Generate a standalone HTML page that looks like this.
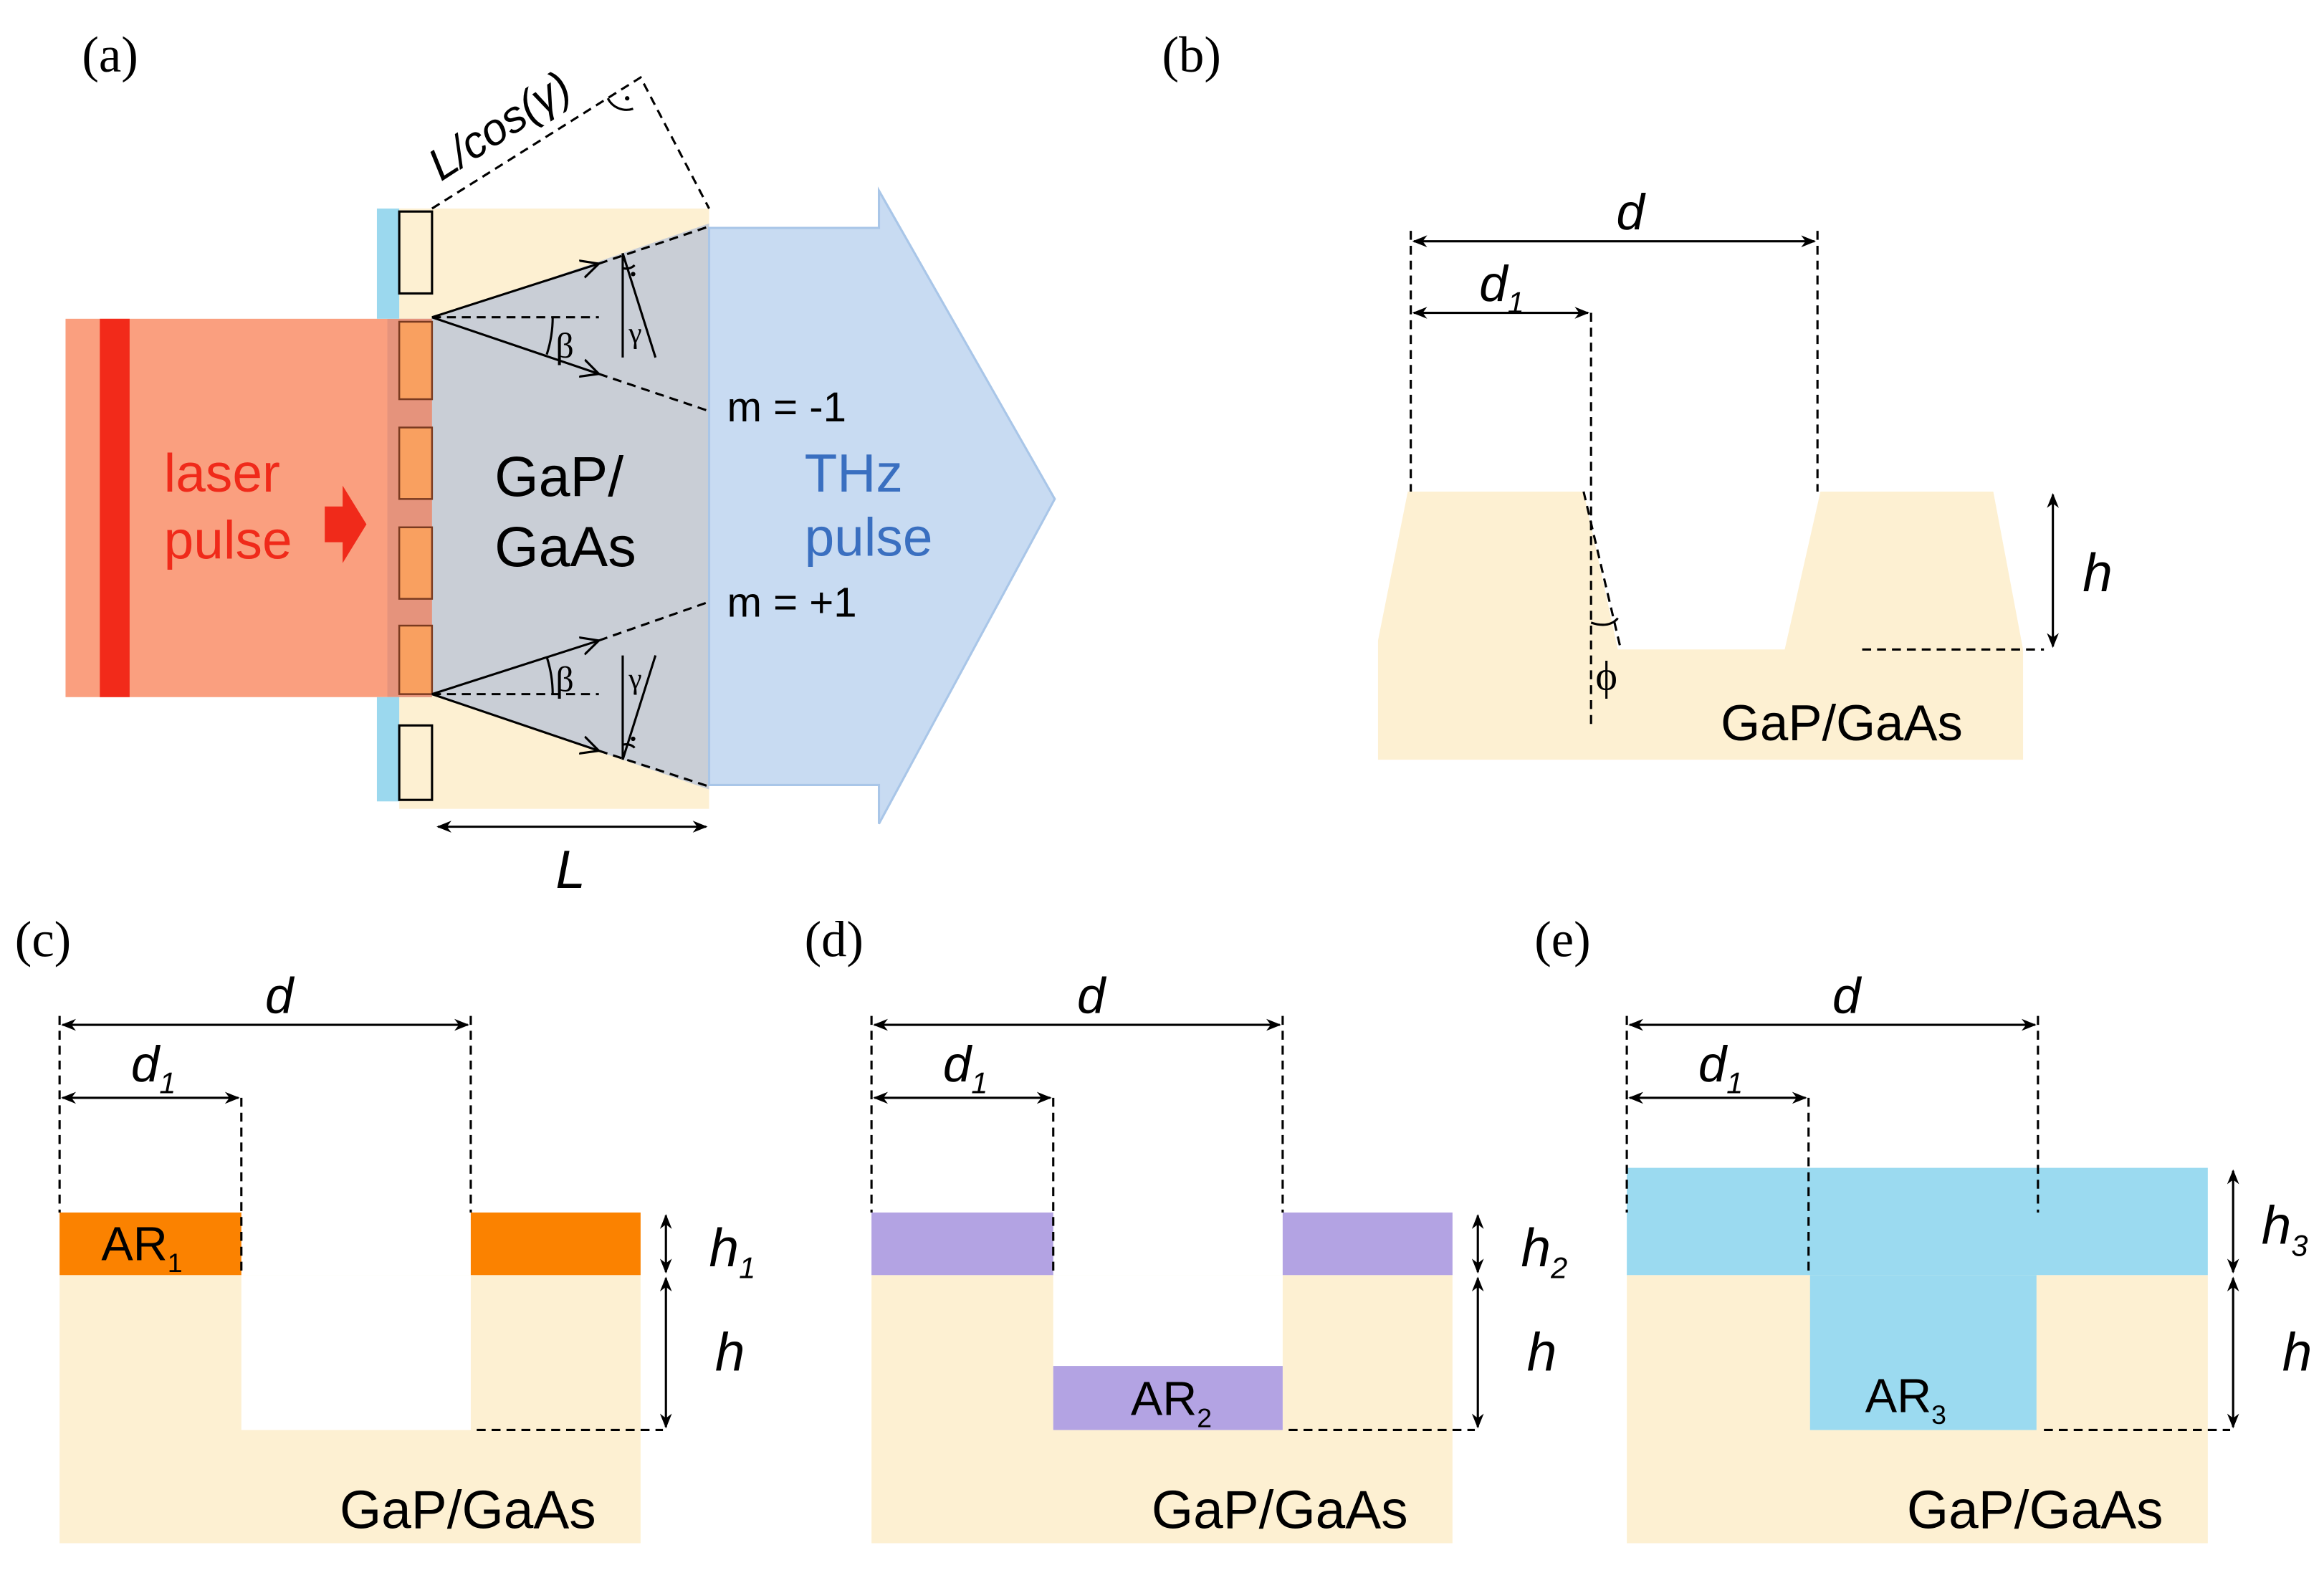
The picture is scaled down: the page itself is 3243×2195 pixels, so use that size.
<!DOCTYPE html>
<html><head><meta charset="utf-8"><style>
html,body{margin:0;padding:0;background:#fff;}
svg{display:block;}
text{font-family:"Liberation Sans",sans-serif;}
.serif{font-family:"Liberation Serif",serif;}
</style></head><body>
<svg width="3243" height="2195" viewBox="0 0 1560 1056" preserveAspectRatio="none" xmlns="http://www.w3.org/2000/svg">
<defs>
<marker id="ah" markerWidth="10" markerHeight="10" refX="9" refY="5" orient="auto-start-reverse" markerUnits="userSpaceOnUse"><path d="M0,1 L10,5 L0,9 L3,5 Z" fill="#000"/></marker>
<marker id="op" markerWidth="14" markerHeight="14" refX="12" refY="7" orient="auto" markerUnits="userSpaceOnUse"><path d="M0,1 L12,7 L0,13" fill="none" stroke="#000" stroke-width="1.5"/></marker>
</defs>
<rect width="1560" height="1056" fill="#fff"/>

<!-- Panel (a) -->
<text x="55" y="48" class="serif" font-size="34">(a)</text>
<rect x="268" y="140" width="208" height="403" fill="#fdf0d2"/>
<polygon points="290,214 476,150 476,530 290,466" fill="#c9ced6"/>
<rect x="268" y="214" width="22" height="252" fill="#c9ced6"/>
<polygon points="476,153 590,153 590,128 708,335 590,553 590,527 476,527" fill="#c8dbf2" stroke="#a9c6e8" stroke-width="1.5"/>
<rect x="44" y="214" width="216" height="254" fill="#fa9f7f"/>
<rect x="260" y="214" width="30" height="254" fill="#e5937c"/>
<rect x="67" y="214" width="20" height="254" fill="#f22a1a"/>
<rect x="253" y="140" width="15" height="74" fill="#9bd8ee"/>
<rect x="253" y="468" width="15" height="70" fill="#9bd8ee"/>
<rect x="268" y="142" width="22" height="55" fill="#fdf0d2" stroke="#000" stroke-width="1.5"/>
<rect x="268" y="487" width="22" height="50" fill="#fdf0d2" stroke="#000" stroke-width="1.5"/>
<rect x="268" y="216" width="22" height="52" fill="#f9a060" stroke="#7a3a20" stroke-width="1.2"/>
<rect x="268" y="287" width="22" height="48" fill="#f9a060" stroke="#7a3a20" stroke-width="1.2"/>
<rect x="268" y="354" width="22" height="48" fill="#f9a060" stroke="#7a3a20" stroke-width="1.2"/>
<rect x="268" y="420" width="22" height="46" fill="#f9a060" stroke="#7a3a20" stroke-width="1.2"/>
<!-- rays -->
<g stroke="#000" stroke-width="1.5" fill="none">
<line x1="290" y1="213" x2="402" y2="177" marker-end="url(#op)"/>
<line x1="402" y1="177" x2="476" y2="152" stroke-dasharray="6,4"/>
<line x1="290" y1="213" x2="402" y2="251" marker-end="url(#op)"/>
<line x1="402" y1="251" x2="476" y2="276" stroke-dasharray="6,4"/>
<line x1="290" y1="213" x2="402" y2="213" stroke-dasharray="6,4"/>
<path d="M371,213 A81,81 0 0 1 367,238"/>
<line x1="290" y1="466" x2="402" y2="430" marker-end="url(#op)"/>
<line x1="402" y1="430" x2="476" y2="404" stroke-dasharray="6,4"/>
<line x1="290" y1="466" x2="402" y2="504" marker-end="url(#op)"/>
<line x1="402" y1="504" x2="476" y2="528" stroke-dasharray="6,4"/>
<line x1="290" y1="466" x2="402" y2="466" stroke-dasharray="6,4"/>
<path d="M367,441 A81,81 0 0 1 371,466"/>
<!-- gamma markers -->
<line x1="418" y1="170" x2="418" y2="240"/>
<line x1="418" y1="170" x2="440" y2="240"/>
<path d="M418,180 A8,8 0 0 0 426,178"/>
<line x1="418" y1="440" x2="418" y2="510"/>
<line x1="440" y1="440" x2="418" y2="510"/>
<path d="M418,500 A8,8 0 0 1 426,502"/>
<!-- L/cos dashed -->
<path d="M290,140 L430,52 L476,140" stroke-dasharray="6,4"/>
<path d="M408,66 A14,14 0 0 0 425,73"/>
<line x1="294" y1="555" x2="474" y2="555" marker-start="url(#ah)" marker-end="url(#ah)"/>
</g>
<circle cx="425" cy="184" r="1.5" fill="#000"/>
<circle cx="425" cy="496" r="1.5" fill="#000"/>
<circle cx="421" cy="66" r="1.5" fill="#000"/>
<text x="422" y="230" class="serif" font-size="20">γ</text>
<text x="422" y="462" class="serif" font-size="20">γ</text>
<text x="373" y="240" class="serif" font-size="24">β</text>
<text x="373" y="464" class="serif" font-size="24">β</text>
<text x="0" y="0" font-size="30" font-style="italic" transform="translate(296,122) rotate(-33)">L/cos(γ)</text>
<text x="373" y="596" font-size="36" font-style="italic">L</text>
<text x="488" y="283" font-size="28">m = -1</text>
<text x="488" y="414" font-size="28">m = +1</text>
<text x="110" y="330" font-size="36" fill="#f02a1a">laser</text>
<text x="110" y="375" font-size="36" fill="#f02a1a">pulse</text>
<polygon points="218,340 230,340 230,326 246,352 230,378 230,364 218,364" fill="#f02a1a"/>
<text x="332" y="333" font-size="38">GaP/</text>
<text x="332" y="380" font-size="38">GaAs</text>
<text x="540" y="330" font-size="36" fill="#3a6fc0">THz</text>
<text x="540" y="373" font-size="36" fill="#3a6fc0">pulse</text>

<!-- Panel (b) -->
<text x="780" y="48" class="serif" font-size="34">(b)</text>
<polygon points="925,510 925,430 945,330 1063,330 1086,436 1198,436 1222,330 1338,330 1358,436 1358,510" fill="#fdf0d2"/>
<g stroke="#000" stroke-width="1.5" fill="none">
<line x1="947" y1="155" x2="947" y2="330" stroke-dasharray="6,4"/>
<line x1="1220" y1="155" x2="1220" y2="330" stroke-dasharray="6,4"/>
<line x1="1068" y1="210" x2="1068" y2="490" stroke-dasharray="6,4"/>
<line x1="1063" y1="330" x2="1088" y2="436" stroke-dasharray="6,4"/>
<line x1="1250" y1="436" x2="1372" y2="436" stroke-dasharray="6,4"/>
<path d="M1068,418 Q1080,422 1086,415"/>
<line x1="949" y1="162" x2="1218" y2="162" marker-start="url(#ah)" marker-end="url(#ah)"/>
<line x1="949" y1="210" x2="1066" y2="210" marker-start="url(#ah)" marker-end="url(#ah)"/>
<line x1="1378" y1="332" x2="1378" y2="434" marker-start="url(#ah)" marker-end="url(#ah)"/>
</g>
<text x="1085" y="154" font-size="34" font-style="italic">d</text>
<text x="993" y="202" font-size="34" font-style="italic">d<tspan font-size="20" dy="8">1</tspan></text>
<text x="1398" y="397" font-size="36" font-style="italic">h</text>
<text x="1071" y="463" class="serif" font-size="28">ϕ</text>
<text x="1155" y="497" font-size="34">GaP/GaAs</text>

<!-- Panel (c) -->
<text x="10" y="642" class="serif" font-size="34">(c)</text>
<text x="540" y="642" class="serif" font-size="34">(d)</text>
<text x="1030" y="642" class="serif" font-size="34">(e)</text>

<g id="c">
<rect x="40" y="856" width="390" height="180" fill="#fdf0d2"/>
<rect x="162" y="856" width="154" height="104" fill="#fff"/>
</g>
<rect x="40" y="814" width="122" height="42" fill="#fb8200"/>
<rect x="316" y="814" width="114" height="42" fill="#fb8200"/>
<text x="68" y="846" font-size="32">AR<tspan font-size="18" dy="8">1</tspan></text>

<g transform="translate(545,0)">
<rect x="40" y="856" width="390" height="180" fill="#fdf0d2"/>
<rect x="162" y="856" width="154" height="104" fill="#fff"/>
<rect x="40" y="814" width="122" height="42" fill="#b3a3e3"/>
<rect x="316" y="814" width="114" height="42" fill="#b3a3e3"/>
<rect x="162" y="917" width="154" height="43" fill="#b3a3e3"/>
<text x="214" y="950" font-size="32">AR<tspan font-size="18" dy="8">2</tspan></text>
</g>

<g transform="translate(1052,0)">
<rect x="40" y="856" width="390" height="180" fill="#fdf0d2"/>
<rect x="40" y="784" width="390" height="72" fill="#9bdaf0"/>
<rect x="163" y="856" width="152" height="104" fill="#9bdaf0"/>
<text x="200" y="948" font-size="32">AR<tspan font-size="18" dy="8">3</tspan></text>
</g>

<!-- common annotations for c,d,e -->
<g id="ann">
<g stroke="#000" stroke-width="1.5" fill="none">
<line x1="40" y1="682" x2="40" y2="814" stroke-dasharray="6,4"/>
<line x1="316" y1="682" x2="316" y2="814" stroke-dasharray="6,4"/>
<line x1="162" y1="737" x2="162" y2="856" stroke-dasharray="6,4"/>
<line x1="320" y1="960" x2="445" y2="960" stroke-dasharray="6,4"/>
<line x1="42" y1="688" x2="314" y2="688" marker-start="url(#ah)" marker-end="url(#ah)"/>
<line x1="42" y1="737" x2="160" y2="737" marker-start="url(#ah)" marker-end="url(#ah)"/>
<line x1="447" y1="858" x2="447" y2="958" marker-start="url(#ah)" marker-end="url(#ah)"/>
</g>
<text x="178" y="680" font-size="34" font-style="italic">d</text>
<text x="88" y="726" font-size="34" font-style="italic">d<tspan font-size="20" dy="8">1</tspan></text>
<text x="480" y="920" font-size="36" font-style="italic">h</text>
<text x="228" y="1026" font-size="36">GaP/GaAs</text>
</g>
<use href="#ann" transform="translate(545,0)"/>
<use href="#ann" transform="translate(1052,0)"/>

<g stroke="#000" stroke-width="1.5" fill="none">
<line x1="447" y1="816" x2="447" y2="854" marker-start="url(#ah)" marker-end="url(#ah)"/>
<line x1="992" y1="816" x2="992" y2="854" marker-start="url(#ah)" marker-end="url(#ah)"/>
<line x1="1499" y1="786" x2="1499" y2="854" marker-start="url(#ah)" marker-end="url(#ah)"/>
</g>
<text x="476" y="850" font-size="36" font-style="italic">h<tspan font-size="20" dy="8">1</tspan></text>
<text x="1021" y="850" font-size="36" font-style="italic">h<tspan font-size="20" dy="8">2</tspan></text>
<text x="1518" y="835" font-size="36" font-style="italic">h<tspan font-size="20" dy="8">3</tspan></text>
</svg>
</body></html>
